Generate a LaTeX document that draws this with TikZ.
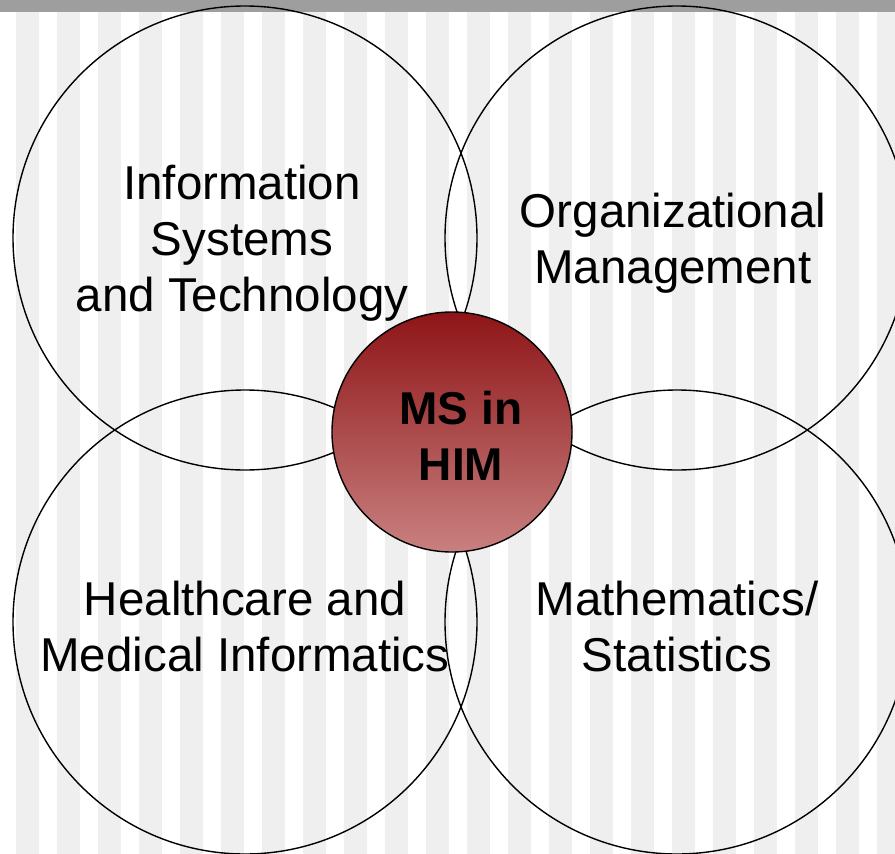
\documentclass[tikz,border=0pt]{standalone}
\usepackage{fontspec}
\setmainfont{Liberation Sans}
\usetikzlibrary{positioning}
\definecolor{stripegray}{HTML}{EFEFEF}
\definecolor{bargray}{HTML}{9E9E9E}
\definecolor{himtop}{HTML}{8E1517}
\definecolor{himbottom}{HTML}{C98080}

\begin{document}
\begin{tikzpicture}[x=1pt,y=-1pt,
  area/.style={draw=black, line width=1.4pt, circle, minimum size=464pt, inner sep=0pt},
  areatext/.style={align=center, font=\fontsize{47.5}{56}\selectfont, yshift=-5pt},
  core/.style={draw=black, line width=1.4pt, circle, minimum size=240pt, inner sep=0pt,
    top color=himtop, bottom color=himbottom}]
    % Frame
    \useasboundingbox (0,0) rectangle (895,854);
    \clip (0,0) rectangle (895,854);
    \fill[white] (0,0) rectangle (895,854); % Background
    \foreach \k in {0,...,21}
        \fill[stripegray] (16+41*\k,12) rectangle ++(23,842); % Stripes
    \fill[bargray] (0,0) rectangle (895,12); % Top bar

    % Subject areas
    \node[area] (infosys) at (245,238) {};
    \node[area] (orgman) at (677,238) {};
    \node[area] (medinf) at (245,622) {};
    \node[area] (mathstat) at (677,622) {};
    \node[areatext, xshift=-3pt] (infosystext) at (infosys.center) {Information\\Systems\\and Technology};
    \node[areatext, xshift=-4pt] (orgmantext) at (orgman.center) {Organizational\\Management};
    \node[areatext] (medinftext) at (medinf.center) {Healthcare and\\Medical Informatics};
    \node[areatext] (mathstattext) at (mathstat.center) {Mathematics/\\Statistics};

    % Programme
    \node[core] (him) at (452,432) {};
    \node[font=\fontsize{46}{56}\selectfont\bfseries, align=center] (himtext) at (461,436) {MS in\\HIM};
\end{tikzpicture}
\end{document}
